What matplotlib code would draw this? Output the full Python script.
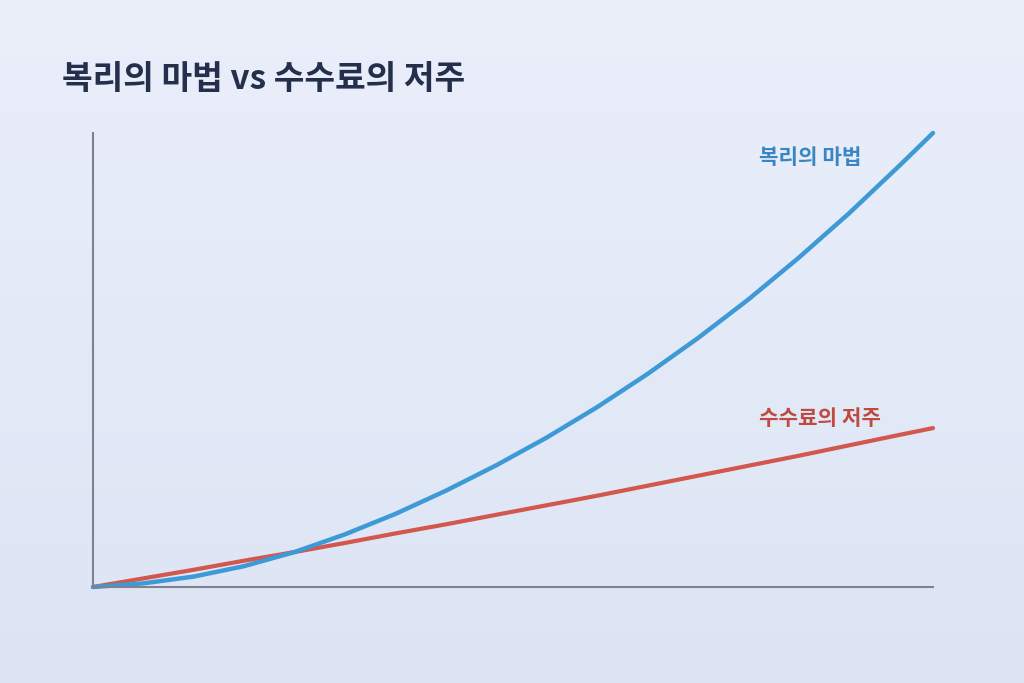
import matplotlib
matplotlib.use("Agg")
import matplotlib.pyplot as plt
import numpy as np

plt.rcParams['font.family'] = ['Noto Sans CJK KR', 'DejaVu Sans']

# Values (x: time, y: relative value)
years = [0, 0.6, 1.2, 1.8, 2.4, 3.0, 3.6, 4.2, 4.8, 5.4,
         6.0, 6.6, 7.2, 7.8, 8.4, 9.0, 9.6, 10]
compound = [0, 0.8, 2.3, 4.6, 7.7, 11.6, 16.1, 21.2, 26.8, 32.9,
            39.6, 46.9, 54.8, 63.3, 72.5, 82.3, 92.8, 100]
fees = [0, 1.9, 3.8, 5.8, 7.7, 9.7, 11.8, 13.8, 15.9, 18.0,
        20.1, 22.3, 24.5, 26.7, 28.9, 31.2, 33.5, 35]

title_text = "복리의 마법 vs 수수료의 저주"
label_compound = "복리의 마법"
label_fees = "수수료의 저주"

fig = plt.figure(figsize=(10.24, 6.83), dpi=100)

# Background gradient
bg = fig.add_axes([0, 0, 1, 1], zorder=-10)
grad = np.linspace(0, 1, 256).reshape(-1, 1)
top = np.array([0.918, 0.937, 0.980])
bottom = np.array([0.863, 0.894, 0.957])
img = top + (bottom - top) * grad[:, :, None]
bg.imshow(img, aspect="auto", extent=[0, 1, 0, 1])
bg.axis("off")

ax = fig.add_axes([93 / 1024, 1 - 587 / 683, 840 / 1024, 454 / 683])
ax.patch.set_alpha(0)
ax.plot(years, fees, color="#d2574c", lw=3, solid_capstyle="round",
        solid_joinstyle="round", clip_on=False)
ax.plot(years, compound, color="#3d9ad6", lw=3.2, solid_capstyle="round",
        solid_joinstyle="round", clip_on=False)
ax.set_xlim(0, 10)
ax.set_ylim(0, 100)
ax.set_xticks([])
ax.set_yticks([])
for side in ["top", "right"]:
    ax.spines[side].set_visible(False)
for side in ["left", "bottom"]:
    ax.spines[side].set_color("#7d828c")
    ax.spines[side].set_linewidth(1.5)

ax.text(7.93, 94.5, label_compound, color="#3a86c3", fontsize=15.3,
        fontweight="bold", va="center", ha="left")
ax.text(7.93, 37.2, label_fees, color="#c04a40", fontsize=15.3,
        fontweight="bold", va="center", ha="left")

fig.text(62 / 1024, 1 - 80 / 683, title_text, color="#24304b", fontsize=24,
         fontweight="heavy", va="center", ha="left")

fig.savefig("out.png", dpi=100)
